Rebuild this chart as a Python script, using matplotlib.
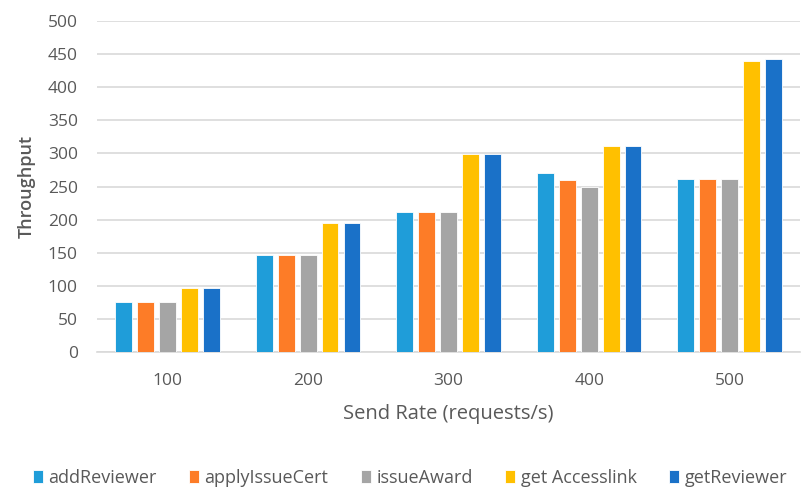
import numpy as np
import matplotlib.pyplot as plt

# throughput per transaction type at each send rate
send_rates = ["100", "200", "300", "400", "500"]
add_reviewer = [75, 146, 211, 271, 262]
apply_issue_cert = [75, 146, 211, 260, 262]
issue_award = [75, 146, 211, 249, 262]
get_accesslink = [97, 195, 299, 312, 440]
get_reviewer = [97, 195, 299, 312, 443]

series = [
    ("addReviewer", add_reviewer, "#1f9dd9"),
    ("applyIssueCert", apply_issue_cert, "#fd7c27"),
    ("issueAward", issue_award, "#a5a5a5"),
    ("get Accesslink", get_accesslink, "#ffc000"),
    ("getReviewer", get_reviewer, "#1a71c8"),
]

plt.rcParams['font.family'] = ['Open Sans', 'DejaVu Sans']
txt = "#595959"

fig = plt.figure(figsize=(8.04, 4.91), dpi=100)
ax = fig.add_axes([0.121, 0.283, 0.874, 0.674])

x = np.arange(len(send_rates))
w = 0.12
step = 0.156
for i, (name, vals, col) in enumerate(series):
    ax.bar(x + (i - 2) * step, vals, w, color=col, label=name,
           edgecolor="white", linewidth=0.6, zorder=3)

ax.set_xlim(-0.5, len(send_rates) - 0.5)
ax.set_ylim(0, 500)
ax.set_yticks(range(0, 501, 50))
ax.set_xticks(x)
ax.set_xticklabels(send_rates)
ax.yaxis.grid(True, color="#d9d9d9", linewidth=1.2, zorder=0)
for s in ["top", "right", "left"]:
    ax.spines[s].set_visible(False)
ax.spines["bottom"].set_color("#d9d9d9")
ax.spines["bottom"].set_linewidth(1.2)
ax.tick_params(axis="both", length=0, colors=txt, labelsize=12.5)
ax.tick_params(axis="x", pad=15)
ax.tick_params(axis="y", pad=14)

ax.set_xlabel("Send Rate (requests/s)", color=txt, fontsize=14.5, labelpad=11)
ax.set_ylabel("Throughput", color=txt, fontsize=13, fontweight="semibold", labelpad=9)

leg = fig.legend(loc="center", bbox_to_anchor=(0.51, 0.027), ncol=5,
                 frameon=False, fontsize=13, handlelength=0.55, handleheight=0.7,
                 handletextpad=0.3, columnspacing=1.8)
for t in leg.get_texts():
    t.set_color(txt)

fig.savefig("out.png", dpi=100)
